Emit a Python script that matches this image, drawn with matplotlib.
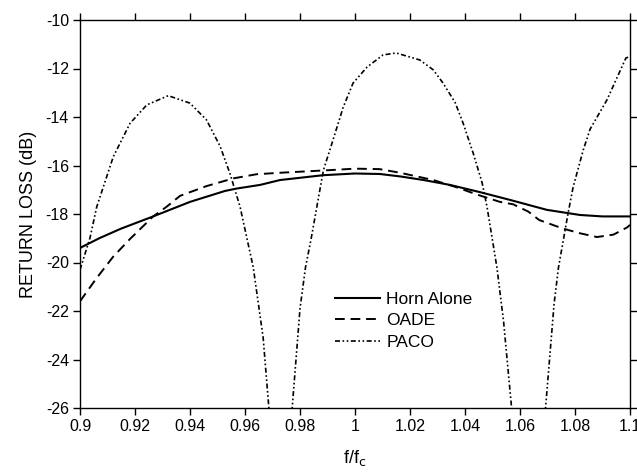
import matplotlib
matplotlib.use("Agg")
import matplotlib.pyplot as plt

plt.rcParams['font.family'] = ['Liberation Sans', 'DejaVu Sans']
plt.rcParams['axes.unicode_minus'] = False

horn_f = [0.900, 0.907, 0.915, 0.9266, 0.940, 0.9527, 0.957, 0.9655, 0.9727, 0.9884, 1.000,
          1.009, 1.0164, 1.0250, 1.0345, 1.0455, 1.0564, 1.0698, 1.0818, 1.090, 1.100]
horn_rl = [-19.4, -19.0, -18.6, -18.1, -17.5, -17.05, -16.95, -16.8, -16.6, -16.4, -16.33,
           -16.35, -16.45, -16.6, -16.8, -17.1, -17.42, -17.83, -18.04, -18.1, -18.1]

oade_f = [0.900, 0.906, 0.912, 0.918, 0.9266, 0.9315, 0.9364, 0.946, 0.9558, 0.9642, 0.9727,
          0.991, 1.000, 1.009, 1.0164, 1.0285, 1.037, 1.0444, 1.0527, 1.0575, 1.063,
          1.067, 1.0756, 1.082, 1.088, 1.094, 1.099, 1.100]
oade_rl = [-21.6, -20.65, -19.77, -19.05, -18.1, -17.7, -17.25, -16.85, -16.53, -16.36, -16.3,
           -16.19, -16.13, -16.15, -16.3, -16.6, -16.9, -17.2, -17.5, -17.6, -17.9,
           -18.25, -18.6, -18.8, -18.95, -18.85, -18.55, -18.45]

paco_f = [0.900, 0.9036, 0.9061, 0.9121, 0.9182, 0.9243, 0.9321, 0.940, 0.946, 0.951,
          0.9545, 0.9582, 0.963, 0.9666, 0.973, 0.980, 0.982, 0.984, 0.9885, 0.992,
          0.9957, 0.9993, 1.0044, 1.0102, 1.015, 1.0236, 1.0285, 1.032, 1.0364, 1.0393,
          1.043, 1.0462, 1.048, 1.0516, 1.054, 1.0635, 1.0724, 1.074, 1.0775, 1.0793,
          1.083, 1.0855, 1.0916, 1.0985, 1.100]
paco_rl = [-20.3, -19.0, -17.7, -15.64, -14.26, -13.5, -13.12, -13.43, -14.12, -15.22,
           -16.32, -17.7, -20.2, -23.1, -32.0, -21.9, -20.2, -19.05, -16.2, -14.95,
           -13.6, -12.6, -11.94, -11.44, -11.36, -11.65, -12.06, -12.6, -13.4, -14.25,
           -15.5, -16.7, -17.7, -20.2, -22.4, -34.0, -21.7, -20.2, -17.96, -16.9,
           -15.36, -14.5, -13.3, -11.57, -11.5]

labels = ["Horn Alone", "OADE", "PACO"]
xticks = [0.9, 0.92, 0.94, 0.96, 0.98, 1.0, 1.02, 1.04, 1.06, 1.08, 1.1]
xticklabels = ["0.9", "0.92", "0.94", "0.96", "0.98", "1", "1.02", "1.04", "1.06", "1.08", "1.1"]
yticks = [-26, -24, -22, -20, -18, -16, -14, -12, -10]

fig = plt.figure(figsize=(6.37, 4.74), dpi=100)
ax = fig.add_axes([80/637, 1-408/474, 550/637, 388/474])

ax.plot(horn_f, horn_rl, color='black', lw=1.5, ls='-', label=labels[0])
ax.plot(oade_f, oade_rl, color='black', lw=1.4, ls=(0, (5, 3)), label=labels[1])
ax.plot(paco_f, paco_rl, color='black', lw=1.2, ls=(0, (3, 1.5, 1, 1.5, 1, 1.5)), label=labels[2])

ax.set_xlim(0.9, 1.1)
ax.set_ylim(-26, -10)
ax.set_xticks(xticks)
ax.set_xticklabels(xticklabels)
ax.set_yticks(yticks)
ax.tick_params(direction='out', length=5, width=1, labelsize=11.5,
               top=True, right=True, labeltop=False, labelright=False, pad=3)
for s in ax.spines.values():
    s.set_linewidth(1.0)

ax.set_xlabel("f/f$_\\mathrm{c}$", fontsize=13, labelpad=10)
ax.set_ylabel("RETURN LOSS (dB)", fontsize=13, labelpad=6)

ax.legend(loc='upper left', bbox_to_anchor=((335-80)/550, 1-(292-20)/388),
          frameon=False, fontsize=12.5, handlelength=2.6, handletextpad=0.35,
          labelspacing=0.35, borderpad=0, borderaxespad=0)

fig.savefig("out.png", dpi=100)
